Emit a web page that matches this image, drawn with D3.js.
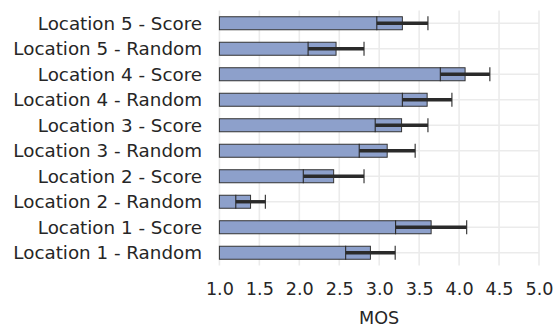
<!DOCTYPE html>
<html><head><meta charset="utf-8">
<script src="https://cdn.jsdelivr.net/npm/d3@7"></script>
<style>html,body{margin:0;padding:0;background:#fff;}svg{display:block;}</style>
</head><body>
<script>
const categories = ["Location 5 - Score","Location 5 - Random","Location 4 - Score","Location 4 - Random","Location 3 - Score","Location 3 - Random","Location 2 - Score","Location 2 - Random","Location 1 - Score","Location 1 - Random"];
const means = [3.29, 2.46, 4.075, 3.60, 3.28, 3.10, 2.43, 1.39, 3.65, 2.89];
const errors = [0.32, 0.35, 0.31, 0.31, 0.33, 0.35, 0.38, 0.185, 0.445, 0.31];
const xTicks = [1.0,1.5,2.0,2.5,3.0,3.5,4.0,4.5,5.0];

(function(){
const W=560,H=326;
const pL=219.4,pR=539,pT=10.5,pB=265.5;
const font='"DejaVu Sans", sans-serif';
const textCol='#262626';

const svg=d3.select('body').append('svg').attr('width',W).attr('height',H);
const x=d3.scaleLinear().domain([1,5]).range([pL,pR]);
const y=d3.scaleBand().domain(categories).range([pT,pB]).paddingInner(0.49).paddingOuter(0.245);

// grid
const g=svg.append('g');
g.selectAll('.vg').data(xTicks).enter().append('line')
 .attr('x1',d=>x(d)).attr('x2',d=>x(d)).attr('y1',pT).attr('y2',pB)
 .attr('stroke','#ebebeb').attr('stroke-width',1.6);
g.selectAll('.hg').data(categories).enter().append('line')
 .attr('x1',pL).attr('x2',pR).attr('y1',d=>y(d)+y.bandwidth()/2).attr('y2',d=>y(d)+y.bandwidth()/2)
 .attr('stroke','#ebebeb').attr('stroke-width',1.6);

// bars
svg.selectAll('.bar').data(categories).enter().append('rect')
 .attr('x',x(1)).attr('y',d=>y(d)).attr('width',(d,i)=>x(means[i])-x(1)).attr('height',y.bandwidth())
 .attr('fill','#8da0cb').attr('stroke','#333').attr('stroke-width',1);

// error bars
const eb=svg.append('g');
categories.forEach((c,i)=>{
  const cy=y(c)+y.bandwidth()/2;
  const lo=means[i]-errors[i], hi=means[i]+errors[i];
  eb.append('line').attr('x1',x(lo)).attr('x2',x(hi)).attr('y1',cy).attr('y2',cy).attr('stroke','#2a2a2a').attr('stroke-width',3.4);
  [lo,hi].forEach(v=>{
    eb.append('line').attr('x1',x(v)).attr('x2',x(v)).attr('y1',cy-7).attr('y2',cy+7).attr('stroke','#2a2a2a').attr('stroke-width',1.1);
  });
});

// y labels
const yAxis=d3.axisLeft(y).tickSize(0).tickPadding(0);
const ya=svg.append('g').attr('transform',`translate(${202},0)`).call(yAxis);
ya.select('.domain').remove();
ya.selectAll('text').attr('font-family',font).attr('font-size','18.3px').attr('fill',textCol).attr('dy','0.36em');

// x labels
const xAxis=d3.axisBottom(x).tickValues(xTicks).tickFormat(d3.format('.1f')).tickSize(0).tickPadding(0);
const xa=svg.append('g').attr('transform',`translate(0,${282})`).call(xAxis);
xa.select('.domain').remove();
xa.selectAll('text').attr('font-family',font).attr('font-size','17.6px').attr('fill',textCol).attr('dy','0.71em');

svg.append('text').attr('x',(pL+pR)/2).attr('y',323.5).attr('text-anchor','middle')
 .attr('font-family',font).attr('font-size','17.6px').attr('fill',textCol).text('MOS');
})();
</script>
</body></html>
